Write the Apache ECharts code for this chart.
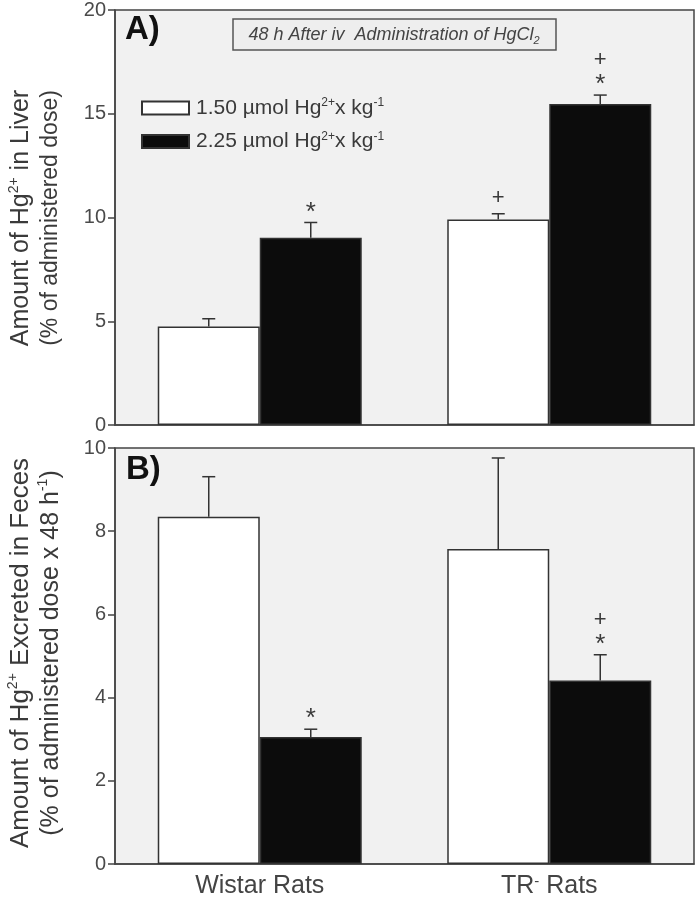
<!DOCTYPE html>
<html>
<head>
<meta charset="utf-8">
<script src="https://cdn.jsdelivr.net/npm/echarts@6/dist/echarts.min.js"></script>
<style>
html,body{margin:0;padding:0;background:#fff;}
#chart{width:696px;height:899px;}
</style>
</head>
<body>
<div id="chart"></div>
<script>
// ---- data ----
const categories = ['Wistar Rats', 'TR⁻ Rats'];
const doses = ['1.50', '2.25'];

const liverLow = [4.75, 9.90];
const liverLowErr = [0.37, 0.28];
const liverHigh = [9.02, 15.47];
const liverHighErr = [0.74, 0.43];

const fecesLow = [8.35, 7.57];
const fecesLowErr = [0.96, 2.19];
const fecesHigh = [3.05, 4.41];
const fecesHighErr = [0.19, 0.62];

const liverLowMarks = ['', '+'];
const liverHighMarks = ['*', '+\n*'];
const fecesLowMarks = ['', ''];
const fecesHighMarks = ['*', '+\n*'];

const liverTicks = [0, 5, 10, 15, 20];
const fecesTicks = [0, 2, 4, 6, 8, 10];

// ---- chart ----
const FONT = 'Liberation Sans, Arial, sans-serif';
const TXT = '#3a3a3a';
const LINE = '#444';
const BAR_W = 102;

const chart = echarts.init(document.getElementById('chart'), null, {renderer: 'canvas'});

function barSeries(name, vals, color, idx) {
  return {
    type: 'bar', name: name, xAxisIndex: idx, yAxisIndex: idx,
    data: vals, barWidth: BAR_W, barGap: '0%',
    itemStyle: {color: color, borderColor: '#333', borderWidth: 1.5},
    silent: true, animation: false
  };
}

function errSeries(vals, errs, marks, side, idx) {
  return {
    type: 'custom', xAxisIndex: idx, yAxisIndex: idx, z: 5, silent: true, animation: false,
    data: vals.map((v, i) => [i, v, errs[i]]),
    renderItem: function (params, api) {
      const i = api.value(0);
      const base = api.coord([i, api.value(1)]);
      const top = api.coord([i, api.value(1) + api.value(2)]);
      const x = base[0] + side * BAR_W / 2;
      const st = {stroke: '#333', lineWidth: 1.5};
      const children = [
        {type: 'line', shape: {x1: x, y1: base[1], x2: x, y2: top[1]}, style: st},
        {type: 'line', shape: {x1: x - 6.5, y1: top[1], x2: x + 6.5, y2: top[1]}, style: st}
      ];
      const m = marks[params.dataIndex];
      if (m) {
        m.split('\n').reverse().forEach(function (ch, k) {
          const c = top[1] - 16 - 19 * k;
          const star = ch === '*';
          children.push({
            type: 'text',
            style: {text: ch, x: x, y: star ? c + 6 : c, align: 'center', verticalAlign: 'middle',
                    fontSize: star ? 26 : 22, fill: TXT, fontFamily: FONT}
          });
        });
      }
      return {type: 'group', children: children};
    }
  };
}

function yAxisCfg(idx, ticks) {
  return {
    type: 'value', gridIndex: idx, min: ticks[0], max: ticks[ticks.length - 1],
    interval: ticks[1] - ticks[0],
    axisLine: {show: true, lineStyle: {color: LINE, width: 1.5}},
    axisTick: {show: true, length: 7, lineStyle: {color: LINE, width: 1.5}},
    axisLabel: {fontSize: 20, color: '#4a4a4a', fontFamily: FONT, margin: 9},
    splitLine: {show: false}
  };
}

const supRich = {
  t: {fontSize: 21, fontFamily: FONT, color: TXT, lineHeight: 22},
  s: {fontSize: 12, fontFamily: FONT, color: TXT, verticalAlign: 'top', lineHeight: 10}
};

function titleRich(main, second) {
  return {
    a: {fontSize: main, fontFamily: FONT, fill: TXT, color: TXT, lineHeight: main + 4},
    s: {fontSize: 14, fontFamily: FONT, fill: TXT, color: TXT, verticalAlign: 'top', lineHeight: 12},
    b: {fontSize: second, fontFamily: FONT, fill: TXT, color: TXT, lineHeight: main + 4},
    t: {fontSize: 14, fontFamily: FONT, fill: TXT, color: TXT, verticalAlign: 'top', lineHeight: 12}
  };
}

const option = {
  backgroundColor: '#ffffff',
  animation: false,
  grid: [
    {left: 115, right: 2, top: 9, height: 416, show: true, backgroundColor: '#f1f1f1',
     borderColor: LINE, borderWidth: 1.5},
    {left: 115, right: 2, top: 448, height: 416, show: true, backgroundColor: '#f1f1f1',
     borderColor: LINE, borderWidth: 1.5}
  ],
  legend: {
    data: doses, orient: 'vertical', left: 136, top: 92,
    itemWidth: 47, itemHeight: 13, itemGap: 12, icon: 'rect',
    selectedMode: false,
    formatter: function (n) { return '{t|' + n + ' µmol Hg}{s|2+}{t|x kg}{s|-1}'; },
    textStyle: {rich: supRich, padding: [0, 0, 0, 2]}
  },
  xAxis: [
    {type: 'category', gridIndex: 0, data: categories,
     axisLine: {show: true, lineStyle: {color: LINE, width: 1.5}},
     axisTick: {show: false}, axisLabel: {show: false}},
    {type: 'category', gridIndex: 1, data: categories,
     axisLine: {show: true, lineStyle: {color: LINE, width: 1.5}},
     axisTick: {show: false},
     axisLabel: {fontSize: 25, color: '#444', fontFamily: FONT, margin: 10,
       formatter: function (v) { return v.split('⁻').join('{s|-}'); },
       rich: {s: {fontSize: 15, color: '#444', fontFamily: FONT, verticalAlign: 'top', lineHeight: 12}}}}
  ],
  yAxis: [yAxisCfg(0, liverTicks), yAxisCfg(1, fecesTicks)],
  series: [
    barSeries(doses[0], liverLow, '#ffffff', 0),
    barSeries(doses[1], liverHigh, '#0c0c0c', 0),
    barSeries(doses[0], fecesLow, '#ffffff', 1),
    barSeries(doses[1], fecesHigh, '#0c0c0c', 1),
    errSeries(liverLow, liverLowErr, liverLowMarks, -1, 0),
    errSeries(liverHigh, liverHighErr, liverHighMarks, 1, 0),
    errSeries(fecesLow, fecesLowErr, fecesLowMarks, -1, 1),
    errSeries(fecesHigh, fecesHighErr, fecesHighMarks, 1, 1)
  ],
  graphic: [
    {type: 'text', left: 125, top: 13, z: 10,
     style: {text: 'A)', fontSize: 33, fontWeight: 'bold', fill: '#111', fontFamily: FONT}},
    {type: 'text', left: 126, top: 453, z: 10,
     style: {text: 'B)', fontSize: 33, fontWeight: 'bold', fill: '#111', fontFamily: FONT}},
    {type: 'rect', shape: {x: 233, y: 19, width: 323, height: 31}, z: 10,
     style: {fill: '#eeeeee', stroke: '#555', lineWidth: 1.5}},
    {type: 'text', x: 394, y: 35, z: 11,
     style: {text: '{i|48 h After iv  Administration of HgCl}{b|2}', align: 'center', verticalAlign: 'middle',
       rich: {
         i: {fontSize: 18, fontStyle: 'italic', fontFamily: FONT, fill: '#444', color: '#444', lineHeight: 22},
         b: {fontSize: 11, fontStyle: 'italic', fontFamily: FONT, fill: '#444', color: '#444', verticalAlign: 'bottom', lineHeight: 12}
       }}},
    {type: 'text', x: 36, y: 218, rotation: Math.PI / 2, z: 10,
     style: {text: '{a|Amount of Hg}{s|2+}{a| in Liver}\n{b|(% of administered dose)}',
       align: 'center', verticalAlign: 'middle', rich: titleRich(25, 23)}},
    {type: 'text', x: 36, y: 653, rotation: Math.PI / 2, z: 10,
     style: {text: '{a|Amount of Hg}{s|2+}{a| Excreted in Feces}\n{b|(% of administered dose x 48 h}{t|-1}{b|)}',
       align: 'center', verticalAlign: 'middle', rich: titleRich(26, 25)}}
  ]
};
chart.setOption(option);
</script>
</body>
</html>
